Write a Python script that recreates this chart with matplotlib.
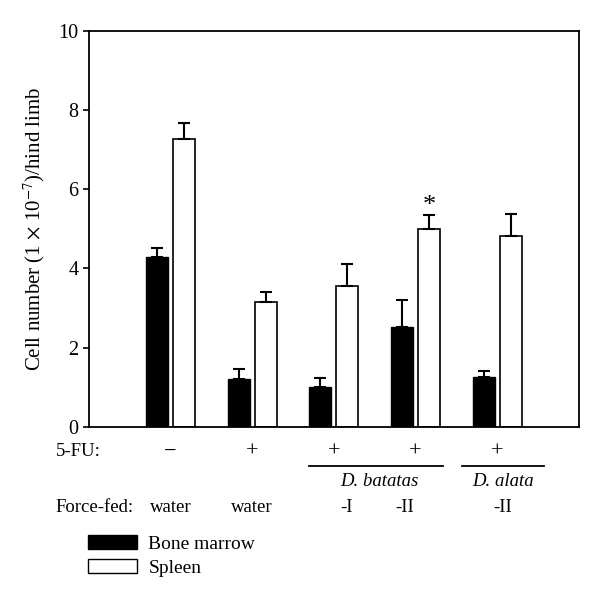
import matplotlib
matplotlib.use('Agg')
import matplotlib.pyplot as plt
import matplotlib.transforms as mtransforms
from matplotlib.patches import Patch
import numpy as np

plt.rcParams['font.family'] = ['Liberation Serif', 'DejaVu Serif']
plt.rcParams['mathtext.fontset'] = 'stix'
plt.rcParams['font.size'] = 13.5

# data
groups = ['water', 'water', '-I', '-II', '-II']
fu_signs = ['\u2212', '+', '+', '+', '+']
bone_marrow = [4.28, 1.20, 1.01, 2.51, 1.26]
bone_marrow_err = [0.25, 0.25, 0.23, 0.69, 0.15]
spleen = [7.28, 3.16, 3.57, 5.00, 4.82]
spleen_err = [0.40, 0.24, 0.55, 0.36, 0.55]
signif = [False, False, False, True, False]

fig = plt.figure(figsize=(6.0, 6.02), dpi=100)
ax = fig.add_axes([0.148, 0.291, 0.817, 0.6575])

x = np.arange(len(groups))
w = 0.27
off = 0.165
ax.bar(x - off, bone_marrow, w, color='black', edgecolor='black', linewidth=1.0)
ax.bar(x + off, spleen, w, color='white', edgecolor='black', linewidth=1.2)
ax.errorbar(x - off, bone_marrow, yerr=[np.zeros(len(x)), bone_marrow_err],
            fmt='none', ecolor='black', elinewidth=1.5, capsize=4, capthick=1.5)
ax.errorbar(x + off, spleen, yerr=[np.zeros(len(x)), spleen_err],
            fmt='none', ecolor='black', elinewidth=1.5, capsize=4, capthick=1.5)
for i in range(len(x)):
    if signif[i]:
        ax.text(x[i] + off, spleen[i] + spleen_err[i] - 0.05, '*',
                ha='center', va='bottom', fontsize=19)

ax.set_xlim(-1, 5)
ax.set_ylim(0, 10)
ax.set_yticks([0, 2, 4, 6, 8, 10])
ax.set_xticks([])
ax.tick_params(axis='y', direction='out', length=4.5, width=1.2, labelsize=14.5, pad=3)
for s in ax.spines.values():
    s.set_linewidth(1.3)
ax.set_ylabel(r'Cell number (1 $\times$ 10$^{-7}$)/hind limb', fontsize=15, labelpad=8)

# rows of labels under the axis
tr = mtransforms.blended_transform_factory(ax.transData, fig.transFigure)
fig.text(0.093, 1 - 452 / 602, '5-FU:', ha='left', va='center')
fig.text(0.093, 1 - 507 / 602, 'Force-fed:', ha='left', va='center')
for i in range(len(x)):
    ax.text(x[i], 1 - 452 / 602, fu_signs[i], transform=tr, ha='center', va='center',
            fontsize=16)
label_x = [0, 1, 2.15, 2.86, 4.07]
for lx, g in zip(label_x, groups):
    ax.text(lx, 1 - 507 / 602, g, transform=tr, ha='center', va='center')
ax.plot([1.69, 3.34], [1 - 466 / 602] * 2, transform=tr, color='black', lw=1.3, clip_on=False)
ax.plot([3.57, 4.57], [1 - 466 / 602] * 2, transform=tr, color='black', lw=1.3, clip_on=False)
ax.text(2.56, 1 - 481 / 602, 'D. batatas', transform=tr, ha='center', va='center', style='italic')
ax.text(4.07, 1 - 481 / 602, 'D. alata', transform=tr, ha='center', va='center', style='italic')

handles = [Patch(facecolor='black', edgecolor='black', label='Bone marrow'),
           Patch(facecolor='white', edgecolor='black', label='Spleen')]
fig.legend(handles=handles, loc='upper left', bbox_to_anchor=(88 / 600, 1 - 535 / 602),
           frameon=False, borderpad=0, borderaxespad=0, handlelength=2.5,
           handleheight=0.75, handletextpad=0.6, labelspacing=0.3, fontsize=14)

fig.savefig('out.png', dpi=100)
